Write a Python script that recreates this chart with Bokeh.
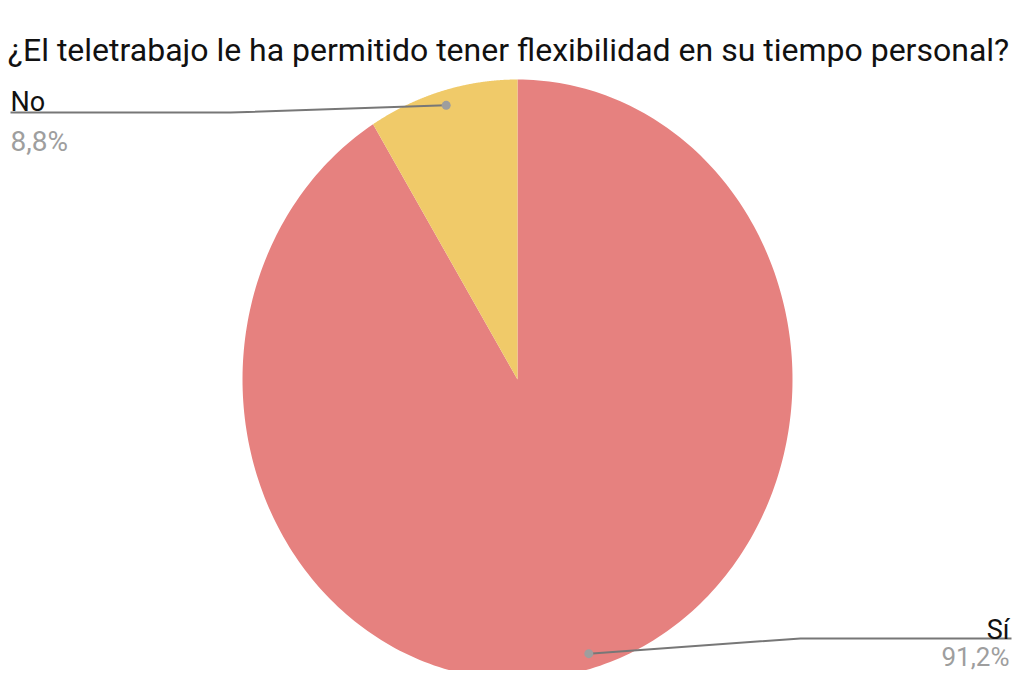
import numpy as np
from bokeh.plotting import figure
from bokeh.models import Range1d
from bokeh.core.properties import value
from bokeh.embed import file_html
from bokeh.resources import INLINE

# ---- data ----
title_text = "¿El teletrabajo le ha permitido tener flexibilidad en su tiempo personal?"
categories = ["Sí", "No"]
shares = [91.2, 8.8]
pct_labels = ["91,2%", "8,8%"]
colors = ["#E6817F", "#F0CA69"]

W, H = 1013, 670
p = figure(width=W, height=H, output_backend="svg", toolbar_location=None,
           x_range=Range1d(0, W), y_range=Range1d(H, 0),
           min_border=0, outline_line_color=None)
p.axis.visible = False
p.grid.visible = False
p.background_fill_color = "white"
p.border_fill_color = "white"

# pie geometry (pixel coords)
cx, cy, rx, ry = 517, 379, 275, 300
total = sum(shares)
start = 0.0
xs, ys, mids = [], [], []
for v in shares:
    a0 = start / total * 2 * np.pi
    a1 = (start + v) / total * 2 * np.pi
    t = np.linspace(a0, a1, 300)
    px = [cx] + list(cx + rx * np.sin(t)) + [cx]
    py = [cy] + list(cy - ry * np.cos(t)) + [cy]
    xs.append(px)
    ys.append(py)
    mids.append((a0 + a1) / 2)
    start += v
p.patches(xs, ys, fill_color=colors, line_color=None)

# leader lines and labels
font = value("Roboto")
dots_x = [cx + 0.95 * rx * np.sin(m) for m in mids]
dots_y = [cy - 0.95 * ry * np.cos(m) for m in mids]

# Sí (right side)
p.line([dots_x[0], 800, 1011], [dots_y[0], 638, 638], line_color="#777777", line_width=2)
# No (left side)
p.line([dots_x[1], 230, 10], [dots_y[1], 112, 112], line_color="#777777", line_width=2)
p.scatter(dots_x, dots_y, size=9, fill_color="#9E9E9E", line_color=None)

p.text(x=[1009], y=[629], text=[categories[0]], text_font=font, text_font_size="27px",
       text_color="#111111", text_align="right", text_baseline="alphabetic")
p.text(x=[1009], y=[656], text=[pct_labels[0]], text_font=font, text_font_size="26px",
       text_color="#9E9E9E", text_align="right", text_baseline="alphabetic")
p.text(x=[10], y=[101], text=[categories[1]], text_font=font, text_font_size="27px",
       text_color="#111111", text_align="left", text_baseline="alphabetic")
p.text(x=[10], y=[141], text=[pct_labels[1]], text_font=font, text_font_size="28px",
       text_color="#9E9E9E", text_align="left", text_baseline="alphabetic")

p.text(x=[508], y=[49], text=[title_text], text_font=font, text_font_size="32px",
       text_color="#111111", text_align="center", text_baseline="alphabetic")

open("out.html", "w").write(file_html(p, INLINE))
